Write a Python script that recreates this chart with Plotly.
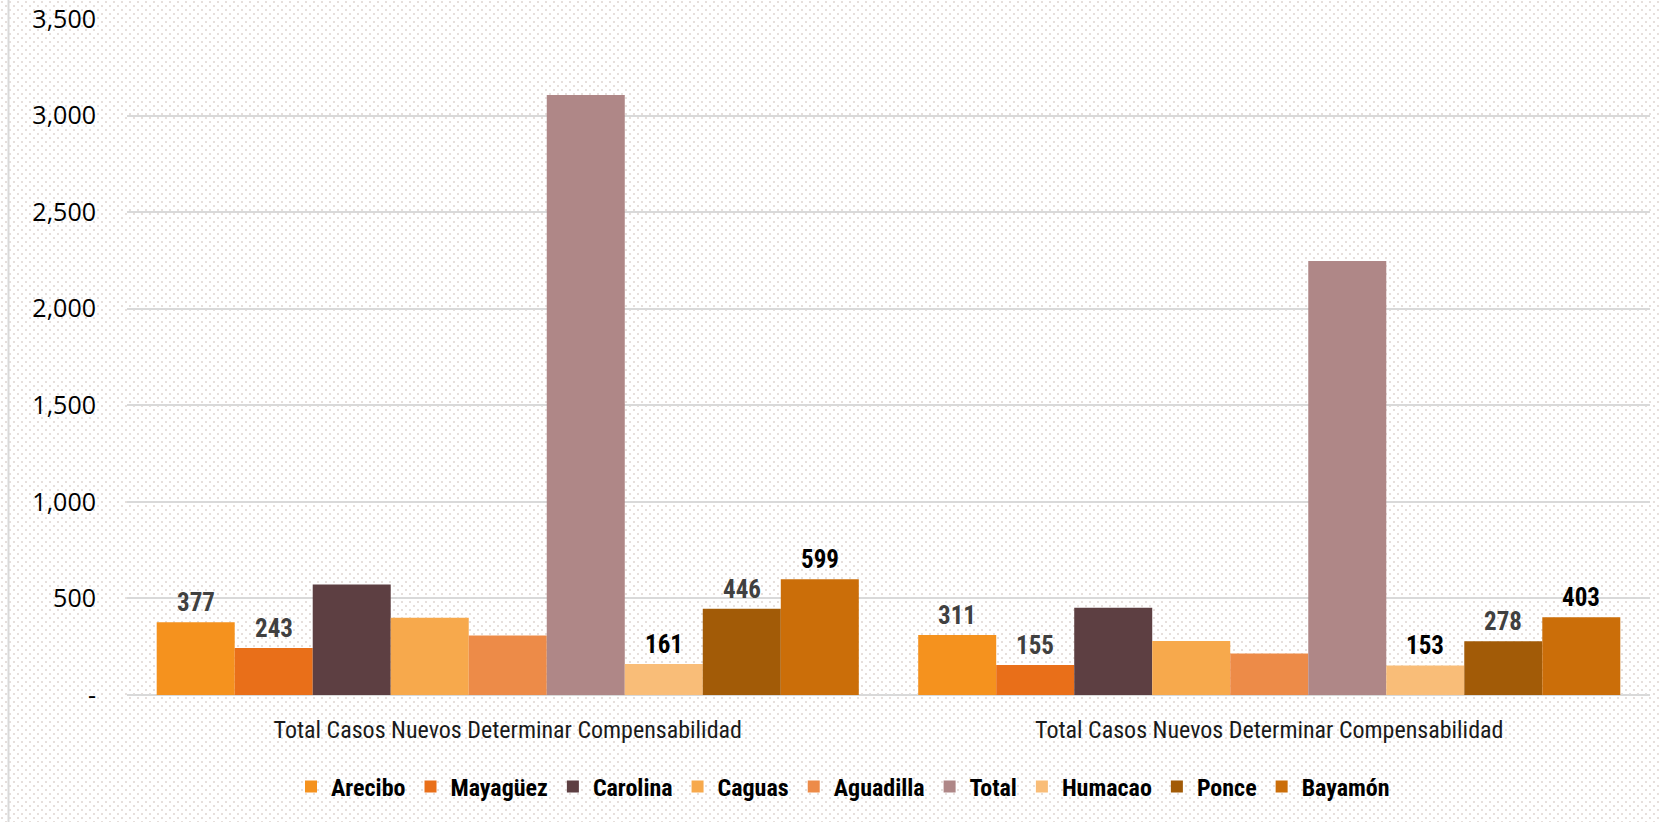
import base64
import plotly.graph_objects as go

# ---------------- data ----------------
categories = [
    "Total Casos Nuevos Determinar Compensabilidad",
    "Total Casos Nuevos Determinar Compensabilidad",
]
series_names = ["Arecibo", "Mayagüez", "Carolina", "Caguas", "Aguadilla",
                "Total", "Humacao", "Ponce", "Bayamón"]
arecibo = [377, 311]
mayaguez = [243, 155]
carolina = [572, 452]
caguas = [400, 280]
aguadilla = [308, 215]
total = [3106, 2247]
humacao = [161, 153]
ponce = [446, 278]
bayamon = [599, 403]
series_values = [arecibo, mayaguez, carolina, caguas, aguadilla,
                 total, humacao, ponce, bayamon]

y_tick_values = [0, 500, 1000, 1500, 2000, 2500, 3000, 3500]
y_tick_labels = ["-", "500", "1,000", "1,500", "2,000", "2,500", "3,000", "3,500"]

# ---------------- styles ----------------
colors = ["#F5921E", "#E96F19", "#5D3F42", "#F7A94C", "#ED8B48",
          "#AF8787", "#F9BD78", "#A25B07", "#CB6E09"]
show_label = [True, True, False, False, False, False, True, True, True]
label_colors = ["#404040", "#404040", None, None, None, None,
                "#000000", "#404040", "#000000"]

W, H = 1660, 822
ML, MR, MT, MB = 127, 10, 19, 127
PW, PH = W - ML - MR, H - MT - MB
BARGAP = 0.078
NARROW = "Liberation Sans Narrow, Roboto Condensed, Arial Narrow, sans-serif"

x_pos = list(range(len(categories)))

fig = go.Figure()
for name, vals, col in zip(series_names, series_values, colors):
    fig.add_trace(go.Bar(
        name=name, x=x_pos, y=vals,
        marker=dict(color=col, line=dict(width=0)),
        hovertemplate=name + ": %{y:,}<extra></extra>",
    ))

# data labels as annotations positioned from bar group geometry
n = len(series_names)
bw = (1 - BARGAP) / n
annotations = []
for i, (vals, show, lc) in enumerate(zip(series_values, show_label, label_colors)):
    if not show:
        continue
    for c, v in zip(x_pos, vals):
        annotations.append(dict(
            x=c - (1 - BARGAP) / 2 + (i + 0.5) * bw, y=v,
            xref="x", yref="y", text=f"{v:,}", showarrow=False,
            yanchor="bottom", yshift=3,
            font=dict(family=NARROW, size=25, color=lc, weight="bold"),
        ))

# dotted background pattern (decoration)
svg = (f"<svg xmlns='http://www.w3.org/2000/svg' width='{W}' height='{H}' "
       f"viewBox='0 0 {W} {H}' preserveAspectRatio='none'>"
       "<defs><pattern id='p' width='8' height='8' patternUnits='userSpaceOnUse'>"
       "<rect x='1' y='1' width='2' height='2' fill='#ece6e3'/>"
       "<rect x='1.5' y='1.5' width='1' height='1' fill='#d6ccc8'/>"
       "<rect x='5' y='5' width='2' height='2' fill='#ece6e3'/>"
       "<rect x='5.5' y='5.5' width='1' height='1' fill='#d6ccc8'/>"
       "</pattern></defs><rect width='100%' height='100%' fill='url(#p)'/></svg>")
src = "data:image/svg+xml;base64," + base64.b64encode(svg.encode()).decode()

fig.update_layout(
    width=W, height=H,
    margin=dict(l=ML, r=MR, t=MT, b=MB, pad=0, autoexpand=False),
    paper_bgcolor="white", plot_bgcolor="rgba(0,0,0,0)",
    barmode="group", bargap=BARGAP, bargroupgap=0,
    font=dict(family="Open Sans, Noto Sans, sans-serif", color="#000000"),
    showlegend=True,
    legend=dict(orientation="h", x=(843 - ML) / PW, xanchor="center",
                y=-(787 - (MT + PH)) / PH, yanchor="middle",
                font=dict(family=NARROW, size=24, color="#000000", weight="bold"),
                bgcolor="rgba(0,0,0,0)", itemwidth=30, traceorder="normal"),
    xaxis=dict(range=[-0.5, len(categories) - 0.5], tickvals=x_pos, ticktext=categories,
               showgrid=False, zeroline=False, showline=False, ticks="",
               tickfont=dict(family=NARROW, size=24, color="#1a1a1a"),
               ticklabelstandoff=18, automargin=False),
    yaxis=dict(range=[0, 3500], tickvals=y_tick_values, ticktext=y_tick_labels,
               showgrid=True, gridcolor="#d9d9d9", gridwidth=2,
               zeroline=True, zerolinecolor="#d9d9d9", zerolinewidth=2,
               showline=False, ticks="",
               tickfont=dict(family="Open Sans, Noto Sans, sans-serif", size=25, color="#000000"),
               ticklabelstandoff=30, automargin=False),
    annotations=annotations,
    images=[dict(source=src, xref="paper", yref="paper",
                 x=-ML / PW, y=1 + MT / PH, sizex=W / PW, sizey=H / PH,
                 xanchor="left", yanchor="top", sizing="stretch", layer="below")],
    shapes=[dict(type="line", xref="paper", yref="paper",
                 x0=-(ML - 8.5) / PW, x1=-(ML - 8.5) / PW,
                 y0=-MB / PH, y1=1 + MT / PH,
                 line=dict(color="#d9d9d9", width=2), layer="below")],
)

fig.write_html("out.html", config={"displayModeBar": False},
               post_script="document.body.style.margin='0';document.body.style.overflow='hidden';")
